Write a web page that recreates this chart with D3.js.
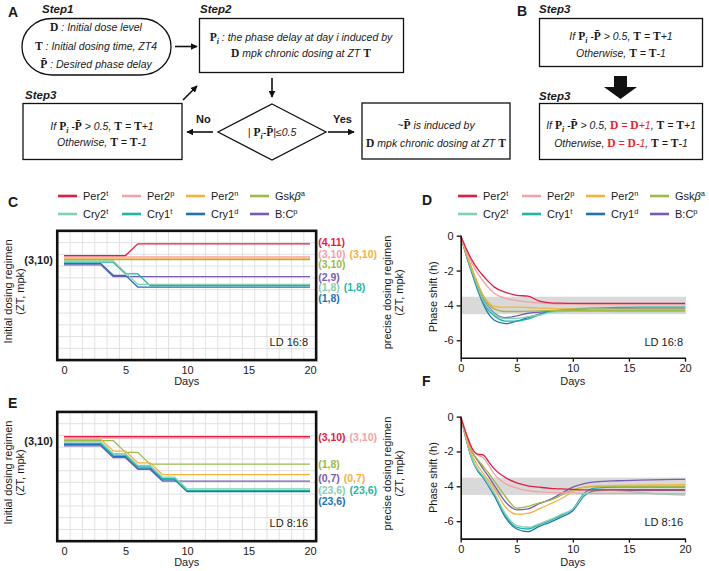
<!DOCTYPE html>
<html><head><meta charset="utf-8">
<script src="https://cdn.jsdelivr.net/npm/d3@7"></script>
<style>
body{margin:0;background:#fff}
svg{display:block}
text{font-family:"Liberation Sans",Arial,sans-serif;fill:#1a1a1a}
</style>
</head><body>
<svg id="chart" width="709" height="571"></svg>
<script>
// ---------------- DATA ----------------
const seriesBase  = ["Per2","Per2","Per2","Gsk","Cry2","Cry1","Cry1","B:C"];
const seriesGreek = ["","","","β","","","",""];
const seriesSup   = ["t","p","n","a","t","t","d","p"];
const seriesColor = ["#e31b45","#f3a2a7","#f6b13c","#9bba48","#86d0b2","#1db7a4","#1f73b5","#7b5bb2"];

const regimenDays = [0,1,2,3,4,5,6,7,8,9,10,11,12,13,14,15,16,17,18,19,20];
// dosing regimen step level relative to the initial (3,10) regimen, LD 16:8
const regimenC = [
  [0,0,0,0,0,0,1,1,1,1,1,1,1,1,1,1,1,1,1,1,1],
  [0,0,0,0,0,0,0,0,0,0,0,0,0,0,0,0,0,0,0,0,0],
  [0,0,0,0,0,0,0,0,0,0,0,0,0,0,0,0,0,0,0,0,0],
  [0,0,0,0,0,0,0,0,0,0,0,0,0,0,0,0,0,0,0,0,0],
  [0,0,0,0,0,-1,-2,-2,-2,-2,-2,-2,-2,-2,-2,-2,-2,-2,-2,-2,-2],
  [0,0,0,0,0,-1,-1,-2,-2,-2,-2,-2,-2,-2,-2,-2,-2,-2,-2,-2,-2],
  [0,0,0,0,-1,-1,-2,-2,-2,-2,-2,-2,-2,-2,-2,-2,-2,-2,-2,-2,-2],
  [0,0,0,0,-1,-1,-1,-1,-1,-1,-1,-1,-1,-1,-1,-1,-1,-1,-1,-1,-1]
];
// LD 8:16
const regimenE = [
  [0,0,0,0,0,0,0,0,0,0,0,0,0,0,0,0,0,0,0,0,0],
  [0,0,0,0,0,0,0,0,0,0,0,0,0,0,0,0,0,0,0,0,0],
  [0,0,0,0,-1,-1,-2,-2,-3,-3,-3,-3,-3,-3,-3,-3,-3,-3,-3,-3,-3],
  [0,0,0,0,0,-1,-1,-2,-2,-2,-2,-2,-2,-2,-2,-2,-2,-2,-2,-2,-2],
  [0,0,0,0,-1,-1,-2,-2,-3,-3,-4,-4,-4,-4,-4,-4,-4,-4,-4,-4,-4],
  [0,0,0,0,-1,-1,-2,-2,-3,-3,-4,-4,-4,-4,-4,-4,-4,-4,-4,-4,-4],
  [0,0,0,0,-1,-1,-2,-2,-3,-3,-4,-4,-4,-4,-4,-4,-4,-4,-4,-4,-4],
  [0,0,0,0,-1,-1,-2,-2,-3,-3,-3,-3,-3,-3,-3,-3,-3,-3,-3,-3,-3]
];
const startLabel = "(3,10)";
const endLabelsC = ["(4,11)","(3,10)","(3,10)","(3,10)","(1,8)","(1,8)","(1,8)","(2,9)"];
const endLabelsE = ["(3,10)","(3,10)","(0,7)","(1,8)","(23,6)","(23,6)","(23,6)","(0,7)"];

const shiftDaysD = [0,0.5,1,1.5,2,2.5,3,4,5,6,7,8,9,10,12,14,16,18,20];
const shiftD = [
  [0,-0.75,-1.4,-1.9,-2.3,-2.65,-2.95,-3.25,-3.42,-3.47,-3.75,-3.85,-3.87,-3.88,-3.88,-3.88,-3.88,-3.88,-3.88],
  [0,-0.85,-1.6,-2.15,-2.6,-3.0,-3.3,-3.6,-3.72,-3.8,-3.85,-3.9,-3.92,-3.93,-3.95,-3.95,-3.95,-3.95,-3.95],
  [0,-1.0,-1.9,-2.7,-3.4,-3.85,-4.05,-4.1,-4.1,-4.12,-4.15,-4.17,-4.2,-4.2,-4.22,-4.22,-4.22,-4.22,-4.22],
  [0,-1.0,-1.9,-2.75,-3.5,-3.95,-4.2,-4.35,-4.35,-4.33,-4.32,-4.3,-4.3,-4.3,-4.3,-4.3,-4.3,-4.3,-4.3],
  [0,-1.05,-2.0,-2.9,-3.7,-4.15,-4.5,-4.75,-4.75,-4.65,-4.55,-4.4,-4.35,-4.33,-4.33,-4.35,-4.35,-4.35,-4.35],
  [0,-1.1,-2.1,-3.0,-3.8,-4.3,-4.6,-4.9,-4.9,-4.78,-4.55,-4.35,-4.25,-4.2,-4.15,-4.12,-4.1,-4.1,-4.1],
  [0,-1.15,-2.15,-3.1,-3.9,-4.5,-4.85,-5.05,-4.9,-4.7,-4.5,-4.35,-4.28,-4.25,-4.22,-4.2,-4.2,-4.2,-4.2],
  [0,-1.05,-2.0,-2.85,-3.65,-4.1,-4.45,-4.7,-4.6,-4.45,-4.38,-4.32,-4.3,-4.3,-4.3,-4.3,-4.3,-4.3,-4.3]
];
const shiftDaysF = [0,0.5,1,1.5,2,2.5,3,4,5,6,7,8,9,10,11,12,14,16,18,20];
const shiftF = [
  [0,-1.0,-1.8,-2.15,-2.2,-2.6,-3.0,-3.5,-3.8,-3.97,-4.05,-4.12,-4.15,-4.18,-4.2,-4.2,-4.2,-4.2,-4.2,-4.2],
  [0,-1.0,-1.85,-2.2,-2.35,-2.8,-3.3,-3.85,-4.1,-4.25,-4.32,-4.35,-4.37,-4.38,-4.4,-4.4,-4.4,-4.4,-4.42,-4.42],
  [0,-1.2,-2.2,-2.8,-3.25,-3.7,-4.15,-5.2,-5.6,-5.55,-5.3,-5.0,-4.7,-4.3,-4.05,-3.98,-3.95,-3.93,-3.92,-3.9],
  [0,-1.1,-2.0,-2.45,-2.85,-3.25,-3.7,-4.6,-5.25,-5.15,-4.95,-4.8,-4.5,-4.2,-4.05,-4.02,-4.0,-4.0,-4.0,-4.0],
  [0,-1.3,-2.4,-3.0,-3.4,-3.9,-4.4,-5.6,-6.25,-6.35,-6.15,-5.9,-5.6,-5.3,-4.5,-4.2,-4.25,-4.35,-4.45,-4.5],
  [0,-1.3,-2.4,-3.05,-3.45,-3.95,-4.45,-5.7,-6.35,-6.45,-6.2,-5.95,-5.65,-5.3,-4.4,-4.1,-4.05,-4.05,-4.05,-4.05],
  [0,-1.35,-2.45,-3.1,-3.5,-4.0,-4.55,-5.8,-6.45,-6.6,-6.3,-6.05,-5.75,-5.4,-4.55,-4.25,-4.22,-4.22,-4.22,-4.22],
  [0,-1.1,-2.0,-2.5,-3.0,-3.45,-3.95,-4.9,-5.35,-5.3,-5.0,-4.75,-4.4,-4.05,-3.85,-3.75,-3.68,-3.65,-3.62,-3.6]
];
const dayTicks = [0,5,10,15,20];
const shiftTicks = [0,-2,-4,-6];
const targetBand = [-4.5,-3.5];

// flowchart text (*x* = math bold, _x_ = subscript, {..} = red)
const step1Text = ["*D* : Initial dose level","*T* : Initial dosing time, ZT4","*P\u0304* : Desired phase delay"];
const step2Text = ["*P*_i_ : the phase delay at day i induced by","*D* mpk chronic dosing at ZT *T*"];
const condText  = "| *P*_i_-*P\u0304*|≤0.5";
const yesText   = ["~*P\u0304* is induced by","*D* mpk chronic dosing at ZT *T*"];
const step3Text = ["If *P*_i_ -*P\u0304* > 0.5, *T* = *T*+1","Otherwise, *T* = *T*-1"];
const step3BText = ["If *P*_i_ -*P\u0304* > 0.5, {*D* = *D*+1}, *T* = *T*+1","Otherwise, {*D* = *D*-1}, *T* = *T*-1"];

// ---------------- DRAWING ----------------
const svg = d3.select("#chart");
const defs = svg.append("defs");
defs.append("marker").attr("id","ah").attr("viewBox","0 0 10 10").attr("refX",9).attr("refY",5)
  .attr("markerWidth",7).attr("markerHeight",7).attr("markerUnits","userSpaceOnUse").attr("orient","auto")
  .append("path").attr("d","M0,0L10,5L0,10z").attr("fill","#111");

function rich(sel, x, y, str, size) {
  const t = sel.append("text").attr("x",x).attr("y",y).attr("text-anchor","middle")
    .attr("font-size",size).attr("font-style","italic");
  let math=false, sub=false, red=false, buf="";
  function flush(){
    if(!buf) return;
    const ts = t.append("tspan").text(buf);
    if(math){ ts.attr("font-family","'Liberation Serif',serif").attr("font-weight","bold").attr("font-style","normal").attr("font-size",size*1.1); }
    if(sub){ ts.attr("font-family","'Liberation Serif',serif").attr("font-size",size*0.75).attr("baseline-shift","-3").attr("font-weight","bold"); }
    if(red){ ts.style("fill","#e8232e"); }
    buf="";
  }
  for(const ch of str){
    if(ch==="*"){flush();math=!math;}
    else if(ch==="_"){flush();sub=!sub;}
    else if(ch==="{"){flush();red=true;}
    else if(ch==="}"){flush();red=false;}
    else buf+=ch;
  }
  flush();
  return t;
}
function label(x,y,txt,size,opts={}) {
  const t = svg.append("text").attr("x",x).attr("y",y).attr("font-size",size).text(txt);
  if(opts.bold) t.attr("font-weight","bold");
  if(opts.italic) t.attr("font-style","italic");
  if(opts.anchor) t.attr("text-anchor",opts.anchor);
  return t;
}
function arrow(x1,y1,x2,y2){
  svg.append("line").attr("x1",x1).attr("y1",y1).attr("x2",x2).attr("y2",y2)
    .attr("stroke","#111").attr("stroke-width",1.6).attr("marker-end","url(#ah)");
}
const boxStyle = s => s.attr("fill","none").attr("stroke","#111").attr("stroke-width",1.3);

// ---- Panel A ----
label(8,17,"A",14,{bold:true});
label(42,13,"Step1",11.5,{bold:true,italic:true});
boxStyle(svg.append("rect").attr("x",22).attr("y",18.5).attr("width",149).attr("height",56.5).attr("rx",30).attr("ry",28));
step1Text.forEach((s,i)=>rich(svg,96,[30.5,49.5,68][i],s,10.5));
arrow(175,46.5,197,46.5);

label(200,13,"Step2",11.5,{bold:true,italic:true});
boxStyle(svg.append("rect").attr("x",199.5).attr("y",18.5).attr("width",204).attr("height",54));
step2Text.forEach((s,i)=>rich(svg,301,[41,57][i],s,10.5));
arrow(272,78,272,97);

boxStyle(svg.append("path").attr("d","M272,104L326,132L272,160L218,132Z"));
rich(svg,272,135.5,condText,10.5);
label(196,122.5,"No",11,{bold:true});
arrow(213,132,187,132);
label(333,122.5,"Yes",11,{bold:true});
arrow(328,132,354,132);

boxStyle(svg.append("rect").attr("x",362).attr("y",103).attr("width",148).attr("height",56));
yesText.forEach((s,i)=>rich(svg,436,[128.5,146.5][i],s,10.5));

label(25,99,"Step3",11.5,{bold:true,italic:true});
boxStyle(svg.append("rect").attr("x",23).attr("y",103.5).attr("width",159).attr("height",56));
step3Text.forEach((s,i)=>rich(svg,102,[129.5,145.5][i],s,10.5));
arrow(183,100,197,86);

// ---- Panel B ----
label(517,16,"B",14,{bold:true});
label(539,13,"Step3",11.5,{bold:true,italic:true});
boxStyle(svg.append("rect").attr("x",539.5).attr("y",18.5).attr("width",163).attr("height",48));
step3Text.forEach((s,i)=>rich(svg,621,[40,56.5][i],s,10.5));
svg.append("path").attr("d","M614,76L627,76L627,87L637,87L620.5,99L604,87L614,87Z").attr("fill","#111");
label(539,100,"Step3",11.5,{bold:true,italic:true});
boxStyle(svg.append("rect").attr("x",539.5).attr("y",103.5).attr("width",163).attr("height",56));
step3BText.forEach((s,i)=>rich(svg,621,[128.5,146.5][i],s,10.5));

// ---- Legends ----
function legend(x0,y0){
  seriesBase.forEach((b,i)=>{
    const col=i%4,row=Math.floor(i/4);
    const lx=x0+col*64, ly=y0+row*18;
    svg.append("line").attr("x1",lx).attr("x2",lx+19).attr("y1",ly).attr("y2",ly)
      .attr("stroke",seriesColor[i]).attr("stroke-width",2.6);
    const t=svg.append("text").attr("x",lx+25).attr("y",ly+4).attr("font-size",11);
    t.append("tspan").text(b);
    if(seriesGreek[i]) t.append("tspan").attr("font-style","italic").text(seriesGreek[i]);
    t.append("tspan").attr("font-size",7.5).attr("dy",-4).text(seriesSup[i]);
  });
}
legend(58,196);
legend(458,196);

// ---- Regimen panels C & E ----
const xR = d3.scaleLinear().domain([0,20]).range([64,310]);
const levelUnit = 11.75;
const offs = i => (i-3.5)*1.33;
function regimenPanel(center, data, endLabels, layout, ld, letterY, letter){
  const y = d3.scaleLinear().domain([0,1]).range([center, center-levelUnit]);
  const top=y(2.5), bot=y(-8.5), left=xR(-0.55), right=xR(20.5);
  const g = svg.append("g");
  g.selectAll(".vg").data(d3.range(0.5,20,1)).enter().append("line")
    .attr("x1",d=>xR(d)).attr("x2",d=>xR(d)).attr("y1",top).attr("y2",bot)
    .attr("stroke","#dedede").attr("stroke-width",0.9);
  g.selectAll(".hg").data(d3.range(-7.5,2,1)).enter().append("line")
    .attr("y1",d=>y(d)).attr("y2",d=>y(d)).attr("x1",left).attr("x2",right)
    .attr("stroke","#dedede").attr("stroke-width",0.9);
  const order = d3.range(data.length).reverse();
  order.forEach(i=>{
    const line = d3.line().x((d,k)=>xR(regimenDays[k])).y(d=>y(d)+offs(i));
    g.append("path").attr("d",line(data[i])).attr("fill","none")
      .attr("stroke",seriesColor[i]).attr("stroke-width",1.3);
  });
  g.append("rect").attr("x",left).attr("y",top).attr("width",right-left).attr("height",bot-top)
    .attr("fill","none").attr("stroke","#111").attr("stroke-width",2.6);
  const ax = g.append("g").attr("transform",`translate(0,${bot})`)
    .call(d3.axisBottom(xR).tickValues(dayTicks).tickSize(0).tickPadding(6));
  ax.select(".domain").remove();
  ax.selectAll("text").attr("font-size",11).attr("font-family","'Liberation Sans',Arial,sans-serif").style("fill","#1a1a1a");
  label((left+right)/2, bot+25, "Days", 11, {anchor:"middle"});
  label(53, center+4, startLabel, 11, {bold:true, anchor:"end"});
  label(right-8, bot-14.5, ld, 11, {anchor:"end"});
  const cy=(top+bot)/2;
  [["Initial dosing regimen",12],["(ZT, mpk)",24]].forEach(([s,xx])=>
    svg.append("text").attr("transform",`translate(${xx},${cy-4}) rotate(-90)`).attr("text-anchor","middle").attr("font-size",11).text(s));
  [["precise dosing regimen",391],["(ZT, mpk)",403]].forEach(([s,xx])=>
    svg.append("text").attr("transform",`translate(${xx},${cy-3}) rotate(-90)`).attr("text-anchor","middle").attr("font-size",11).text(s));
  // end labels
  const col0 = {};
  const placed = [];
  endLabels.forEach((s,i)=>{
    const [col,dy]=layout[i];
    const fy = y(data[i][data[i].length-1]) + dy;
    placed.push({s,i,col,fy});
  });
  placed.filter(p=>p.col===0).forEach(p=>{
    const t=svg.append("text").attr("x",right+2).attr("y",p.fy).attr("dy","0.36em").attr("font-size",10.5)
      .attr("font-weight","bold").style("fill",seriesColor[p.i]).text(p.s);
    col0[p.fy.toFixed(1)] = t.node().getComputedTextLength();
  });
  placed.filter(p=>p.col===1).forEach(p=>{
    const w = col0[p.fy.toFixed(1)] || 29;
    svg.append("text").attr("x",right+2+w+4).attr("y",p.fy).attr("dy","0.36em").attr("font-size",10.5)
      .attr("font-weight","bold").style("fill",seriesColor[p.i]).text(p.s);
  });
  label(8,letterY,letter,14,{bold:true});
}
// label layout: [column, vertical nudge px]
regimenPanel(260.2, regimenC, endLabelsC,
  [[0,-6.5],[0,-6],[1,-6],[0,4.5],[0,3.8],[1,3.8],[0,14.3],[0,5]], "LD 16:8", 207, "C");
regimenPanel(441.3, regimenE, endLabelsE,
  [[0,-4.3],[1,-4.3],[1,1.5],[0,-1],[0,2.2],[1,2.2],[0,13.2],[0,1.5]], "LD 8:16", 408, "E");

// ---- Phase shift panels D & F ----
const xS = d3.scaleLinear().domain([0,20]).range([460.7,685]);
function shiftPanel(y0, days, data, ld, letter){
  const y = d3.scaleLinear().domain([-7,0]).range([y0+122, y0]);
  const g = svg.append("g");
  g.append("rect").attr("x",xS(0)).attr("width",xS(20)-xS(0)+1)
    .attr("y",y(targetBand[1])).attr("height",y(targetBand[0])-y(targetBand[1])).attr("fill","#d9d9d9");
  d3.range(data.length).reverse().forEach(i=>{
    const line = d3.line().x((d,k)=>xS(days[k])).y(d=>y(d)).curve(d3.curveMonotoneX);
    g.append("path").attr("d",line(data[i])).attr("fill","none")
      .attr("stroke",seriesColor[i]).attr("stroke-width",1.3);
  });
  const ax = g.append("g").attr("transform",`translate(0,${y(-7)})`)
    .call(d3.axisBottom(xS).tickValues(dayTicks).tickSize(4).tickSizeOuter(0).tickPadding(3));
  const ay = g.append("g").attr("transform",`translate(${xS(0)},0)`)
    .call(d3.axisLeft(y).tickValues(shiftTicks).tickSize(4).tickSizeOuter(0).tickPadding(3).tickFormat(d=>String(d)));
  [ax,ay].forEach(a=>{
    a.select(".domain").attr("stroke","#111").attr("stroke-width",1.6);
    a.selectAll(".tick line").attr("stroke","#111").attr("stroke-width",1.3);
    a.selectAll("text").attr("font-size",11).attr("font-family","'Liberation Sans',Arial,sans-serif").style("fill","#1a1a1a");
  });
  label((xS(0)+xS(20))/2+0, y(-7)+27, "Days", 11, {anchor:"middle"});
  svg.append("text").attr("transform",`translate(437,${y(-3.5)}) rotate(-90)`).attr("text-anchor","middle")
    .attr("font-size",11).text("Phase shift (h)");
  label(683, y(-6.3), ld, 11, {anchor:"end"});
  label(422, y0-31, letter, 14, {bold:true});
}
shiftPanel(235.7, shiftDaysD, shiftD, "LD 16:8", "D");
shiftPanel(416.6, shiftDaysF, shiftF, "LD 8:16", "F");
</script>
</body></html>
